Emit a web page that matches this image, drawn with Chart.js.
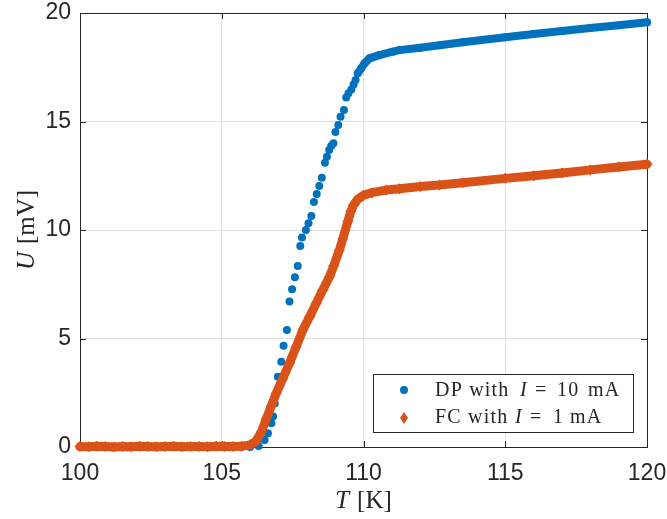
<!DOCTYPE html>
<html>
<head>
<meta charset="utf-8">
<script src="https://cdn.jsdelivr.net/npm/chart.js@4.4.0/dist/chart.umd.min.js"></script>
<style>
  html, body { margin: 0; padding: 0; background: #fff; }
</style>
</head>
<body>
<canvas id="myChart" width="667" height="519"></canvas>
<script>
const xTicks = [100, 105, 110, 115, 120];
const yTicks = [0, 5, 10, 15, 20];

// DP with I = 10 mA, sparse part (flat part is hidden under the FC band)
const dpT = [100, 101, 102, 103, 104, 105, 106, 106.3,
  106.51, 106.63, 106.75, 106.81, 106.87, 106.98, 107.10, 107.18, 107.30, 107.39,
  107.48, 107.58, 107.68, 107.77, 107.83, 107.97, 108.06, 108.16, 108.25, 108.35,
  108.44, 108.53, 108.64, 108.71, 108.79, 108.86, 108.94, 109.01, 109.11, 109.19,
  109.31, 109.39, 109.47, 109.57, 109.65, 109.72];
const dpU = [0, 0, 0, 0, 0, 0, 0, 0.05,
  0.32, 0.63, 1.09, 1.40, 2.01, 3.24, 3.93, 4.67, 5.39, 6.70,
  7.27, 7.82, 8.34, 9.26, 9.65, 10.0, 10.31, 10.65, 11.29, 11.66,
  12.03, 12.41, 13.10, 13.38, 13.69, 13.87, 14.0, 14.52, 14.84, 15.22,
  15.53, 16.11, 16.30, 16.48, 16.71, 16.91];

// DP, dense part after the transition
const dpBandT = [109.80, 109.92, 110.04, 110.21, 110.56, 111.03, 111.27, 112.0, 112.68,
  113.5, 115, 116, 117, 118, 119, 120];
const dpBandU = [17.22, 17.45, 17.68, 17.91, 18.06, 18.22, 18.29, 18.40, 18.51,
  18.65, 18.88, 19.03, 19.17, 19.31, 19.44, 19.57];

// FC with I = 1 mA
const fcT = [100, 100.3, 100.6, 100.9, 101.2, 101.5, 101.8, 102.1, 102.4, 102.7, 103.0,
  103.3, 103.6, 103.9, 104.2, 104.5, 104.8, 105.1, 105.4, 105.7, 106.0,
  106.2, 106.4, 106.57, 106.75, 106.92, 107.15, 107.39, 107.62, 107.86, 108.1,
  108.33, 108.55, 108.80, 108.95, 109.15, 109.27, 109.45, 109.55, 109.65,
  109.8, 110.0, 110.3, 110.8, 111.27, 112.0, 112.68, 113.5, 115, 116, 117, 118, 119, 120];
const fcU = [0.02, 0.01, 0.03, 0.02, 0.0, 0.02, 0.01, 0.03, 0.02, 0.01, 0.02,
  0.03, 0.01, 0.02, 0.02, 0.01, 0.03, 0.02, 0.02, 0.03, 0.1,
  0.25, 0.7, 1.3, 1.9, 2.47, 3.15, 3.86, 4.6, 5.39, 6.0,
  6.62, 7.2, 7.85, 8.35, 9.08, 9.6, 10.4, 10.85, 11.15,
  11.42, 11.6, 11.72, 11.84, 11.9, 12.0, 12.07, 12.18, 12.38, 12.5, 12.63, 12.77, 12.9, 13.03];

const blue = '#0072BD';
const orange = '#D95319';
const ink = '#262626';

const pts = (xs, ys) => xs.map((v, i) => ({ x: v, y: ys[i] }));

const frame = {
  id: 'frame',
  beforeDatasetsDraw(chart) {
    const { ctx, chartArea: a, scales: { x, y } } = chart;
    ctx.save();
    ctx.strokeStyle = ink;
    ctx.lineWidth = 1;
    ctx.strokeRect(a.left + 0.5, a.top + 0.5, a.right - a.left, a.bottom - a.top);
    ctx.beginPath();
    xTicks.forEach(v => {
      const px = Math.round(x.getPixelForValue(v)) + 0.5;
      ctx.moveTo(px, a.bottom); ctx.lineTo(px, a.bottom - 6);
      ctx.moveTo(px, a.top); ctx.lineTo(px, a.top + 6);
    });
    yTicks.forEach(v => {
      const py = Math.round(y.getPixelForValue(v)) + 0.5;
      ctx.moveTo(a.left, py); ctx.lineTo(a.left + 6, py);
      ctx.moveTo(a.right, py); ctx.lineTo(a.right - 6, py);
    });
    ctx.stroke();
    ctx.restore();
  }
};

const labels = {
  id: 'labels',
  afterDraw(chart) {
    const { ctx, chartArea: a } = chart;
    ctx.save();
    ctx.fillStyle = ink;
    ctx.textBaseline = 'alphabetic';
    const rm = '25px "Liberation Serif"';

    // x title: T [K]
    ctx.font = 'italic ' + rm;
    const wT = ctx.measureText('T').width;
    ctx.font = rm;
    const wK = ctx.measureText('[K]').width;
    let sx = (a.left + a.right) / 2 - (wT + 8 + wK) / 2;
    ctx.font = 'italic ' + rm;
    ctx.fillText('T', sx, 508);
    ctx.font = rm;
    ctx.fillText('[K]', sx + wT + 8, 508);

    // y title: U [mV]
    ctx.translate(34, (a.top + a.bottom) / 2);
    ctx.rotate(-Math.PI / 2);
    ctx.font = 'italic ' + rm;
    const wU = ctx.measureText('U').width;
    ctx.font = rm;
    const wmV = ctx.measureText('[mV]').width;
    sx = -(wU + 8 + wmV) / 2;
    ctx.font = 'italic ' + rm;
    ctx.fillText('U', sx, 0);
    ctx.font = rm;
    ctx.fillText('[mV]', sx + wU + 8, 0);
    ctx.setTransform(1, 0, 0, 1, 0, 0);

    // legend
    ctx.fillStyle = '#fff';
    ctx.fillRect(373.5, 374.5, 260, 58);
    ctx.strokeStyle = ink;
    ctx.lineWidth = 1;
    ctx.strokeRect(373.5, 374.5, 260, 58);

    ctx.fillStyle = blue;
    ctx.beginPath();
    ctx.arc(404, 390, 4, 0, Math.PI * 2);
    ctx.fill();
    ctx.fillStyle = orange;
    ctx.beginPath();
    ctx.moveTo(404, 412); ctx.lineTo(408, 418); ctx.lineTo(404, 424); ctx.lineTo(400, 418);
    ctx.closePath();
    ctx.fill();

    ctx.fillStyle = ink;
    ctx.letterSpacing = '1.2px';
    const lf = '20px "Liberation Serif"';
    const row = (y, parts) => parts.forEach(p => {
      ctx.font = (p[2] ? 'italic ' : '') + lf;
      ctx.fillText(p[0], p[1], y);
    });
    row(396, [['DP with', 435], ['I', 520, true], ['=', 535], ['10', 557], ['mA', 588]]);
    row(423, [['FC with', 435], ['I', 515, true], ['=', 530], ['1', 553], ['mA', 570]]);
    ctx.restore();
  }
};

new Chart(document.getElementById('myChart'), {
  type: 'scatter',
  data: {
    datasets: [
      {
        label: 'FC with I = 1 mA',
        data: pts(fcT, fcU),
        showLine: true,
        borderColor: orange,
        borderWidth: 9,
        borderCapStyle: 'round',
        borderJoinStyle: 'round',
        backgroundColor: orange,
        pointStyle: 'rectRot',
        pointRadius: 5.5,
        pointBorderWidth: 0,
        clip: false
      },
      {
        label: 'DP band',
        data: pts(dpBandT, dpBandU),
        showLine: true,
        borderColor: blue,
        borderWidth: 8,
        borderCapStyle: 'round',
        borderJoinStyle: 'round',
        backgroundColor: blue,
        pointStyle: 'circle',
        pointRadius: 4,
        pointBorderWidth: 0,
        clip: false
      },
      {
        label: 'DP with I = 10 mA',
        data: pts(dpT, dpU),
        showLine: false,
        backgroundColor: blue,
        pointStyle: 'circle',
        pointRadius: 4,
        pointBorderWidth: 0,
        clip: false
      }
    ]
  },
  options: {
    responsive: false,
    animation: false,
    layout: { padding: { top: 13, right: 20, left: 0, bottom: 0 } },
    plugins: { legend: { display: false }, tooltip: { enabled: false } },
    scales: {
      x: {
        type: 'linear',
        min: 100,
        max: 120,
        afterBuildTicks: s => { s.ticks = xTicks.map(v => ({ value: v })); },
        afterFit: s => { s.height = 72; s.paddingLeft = 0; s.paddingRight = 0; },
        ticks: { color: ink, padding: 14, maxRotation: 0,
                 font: { family: 'Liberation Sans', size: 23, lineHeight: 1.1 } },
        grid: { color: '#e0e0e0', drawTicks: false },
        border: { display: false }
      },
      y: {
        type: 'linear',
        min: 0,
        max: 20,
        afterBuildTicks: s => { s.ticks = yTicks.map(v => ({ value: v })); },
        afterFit: s => { s.width = 80; s.paddingTop = 0; s.paddingBottom = 0; },
        ticks: { color: ink, padding: 9,
                 font: { family: 'Liberation Sans', size: 23, lineHeight: 1.1 } },
        grid: { color: '#e0e0e0', drawTicks: false },
        border: { display: false }
      }
    }
  },
  plugins: [frame, labels]
});
</script>
</body>
</html>
